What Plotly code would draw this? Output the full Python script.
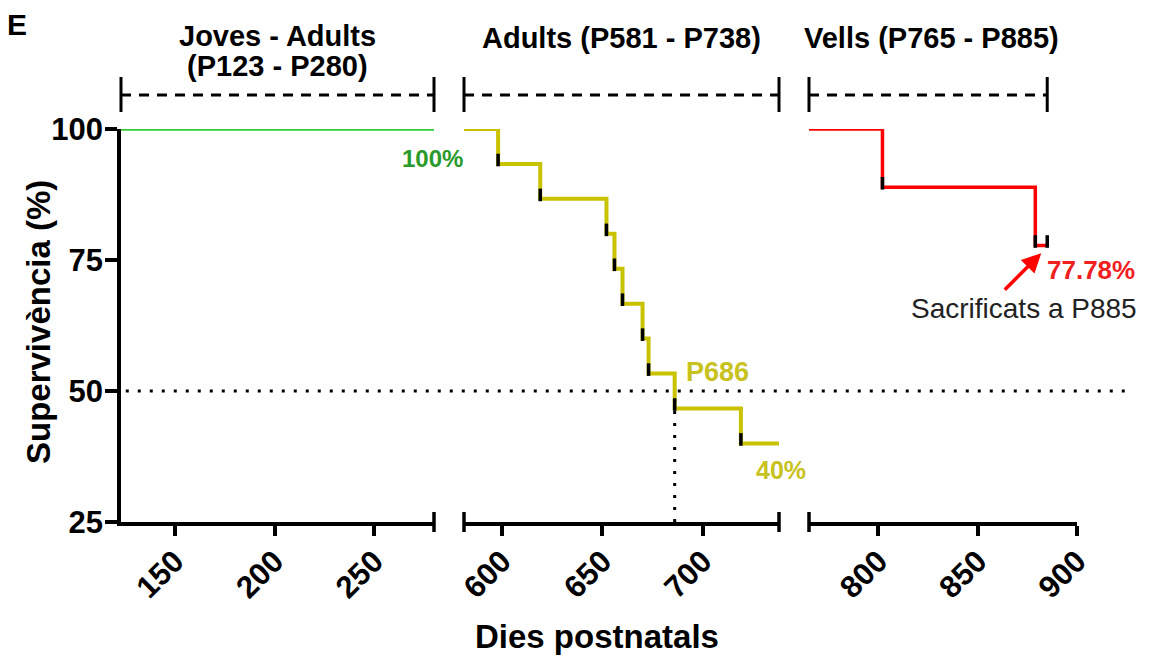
import plotly.graph_objects as go

# ---------------- data ----------------
seg1_range = [123, 280]
seg2_range = [581, 738]
seg3_range = [765, 900]

seg1_ticks = [150, 200, 250]
seg2_ticks = [600, 650, 700]
seg3_ticks = [800, 850, 900]
y_ticks = [25, 50, 75, 100]

bracket1 = [123, 280]
bracket2 = [581, 738]
bracket3 = [765, 885]

green_days = [123, 280]
green_surv = [100, 100]
green_censor_days = [280]
green_censor_surv = [100]

yellow_days = [581, 598, 619, 652, 656, 660, 670, 673, 686, 719, 738]
yellow_surv = [100, 93.33, 86.67, 80.0, 73.33, 66.67, 60.0, 53.33, 46.67, 40.0, 40.0]
yellow_event_days = yellow_days[1:-1]
yellow_event_surv = yellow_surv[1:-1]

red_days = [765, 802, 879, 885]
red_surv = [100, 88.89, 77.78, 77.78]
red_event_days = [802, 879]
red_event_surv = [88.89, 77.78]
red_censor_days = [885]
red_censor_surv = [77.78]

median_day = 686
median_surv = 50

# ---------------- style ----------------
FONT = "Liberation Sans, Arial, sans-serif"
GREEN = "#33cc33"
GREEN_TXT = "#2a9a2a"
YELLOW = "#c8c200"
YELLOW_TXT = "#c8c21e"
RED = "#ff0000"
RED_TXT = "#f02020"
W, H = 1152, 657
PL, PR, PT, PB = 121, 1077, 129, 522
PW, PH = PR - PL, PB - PT


def dom(a, b):
    return [(a - PL) / PW, (b - PL) / PW]


d1, d2, d3 = dom(121, 434), dom(464, 779), dom(809, 1077)
MARK_OFF = 0.75  # marker centre offset above the step (in % units)


def seg_to_paper(day, rg, d):
    return d[0] + (day - rg[0]) / (rg[1] - rg[0]) * (d[1] - d[0])


fig = go.Figure()

# survival curves
fig.add_trace(go.Scatter(x=green_days, y=green_surv, mode="lines", xaxis="x", yaxis="y",
                         line=dict(color=GREEN, width=3.5, shape="hv"), showlegend=False))
fig.add_trace(go.Scatter(x=yellow_days, y=yellow_surv, mode="lines", xaxis="x2", yaxis="y",
                         line=dict(color=YELLOW, width=4, shape="hv"), showlegend=False))
fig.add_trace(go.Scatter(x=red_days, y=red_surv, mode="lines", xaxis="x3", yaxis="y",
                         line=dict(color=RED, width=3.5, shape="hv"), showlegend=False))

mk = dict(symbol="line-ns", size=9, color="black", line=dict(color="black", width=3.5))
fig.add_trace(go.Scatter(x=green_censor_days, y=[v + MARK_OFF for v in green_censor_surv],
                         mode="markers", xaxis="x", yaxis="y", marker=mk, cliponaxis=False,
                         showlegend=False))
fig.add_trace(go.Scatter(x=yellow_event_days, y=[v + MARK_OFF for v in yellow_event_surv],
                         mode="markers", xaxis="x2", yaxis="y", marker=mk, cliponaxis=False,
                         showlegend=False))
fig.add_trace(go.Scatter(x=red_event_days + red_censor_days,
                         y=[v + MARK_OFF for v in red_event_surv + red_censor_surv],
                         mode="markers", xaxis="x3", yaxis="y", marker=mk, cliponaxis=False,
                         showlegend=False))

axis_common = dict(showgrid=False, zeroline=False, showline=True, linecolor="black",
                   linewidth=3.5, ticks="outside", ticklen=10, tickwidth=3.5,
                   tickcolor="black", tickangle=-45, anchor="y", ticklabelstandoff=-5,
                   tickfont=dict(family=FONT, size=31, color="black", weight="bold"))

fig.update_layout(
    width=W, height=H, template="none",
    paper_bgcolor="white", plot_bgcolor="white",
    margin=dict(l=PL, r=W - PR, t=PT, b=H - PB),
    xaxis=dict(domain=d1, range=seg1_range, tickvals=seg1_ticks, **axis_common),
    xaxis2=dict(domain=d2, range=seg2_range, tickvals=seg2_ticks, **axis_common),
    xaxis3=dict(domain=d3, range=seg3_range, tickvals=seg3_ticks, **axis_common),
    yaxis=dict(range=[25, 100], tickvals=y_ticks, showgrid=False, zeroline=False,
               showline=True, linecolor="black", linewidth=3.5, ticks="outside",
               ticklen=12, tickwidth=3.5, tickcolor="black", anchor="x",
               ticklabelstandoff=-4,
               tickfont=dict(family=FONT, size=31, color="black", weight="bold")),
    showlegend=False,
)

shapes = []
capy = 10 / PH
# axis segment end caps
for xr, xv in [("x domain", 1), ("x2 domain", 0), ("x2 domain", 1), ("x3 domain", 0)]:
    shapes.append(dict(type="line", xref=xr, yref="paper", x0=xv, x1=xv, y0=-capy, y1=capy,
                       line=dict(color="black", width=3.5)))

# top brackets
by = 1 + (PT - 95) / PH
by0 = 1 + (PT - 112) / PH
by1 = 1 + (PT - 77) / PH
for xr, br, rg in [("x domain", bracket1, seg1_range), ("x2 domain", bracket2, seg2_range),
                   ("x3 domain", bracket3, seg3_range)]:
    f0 = (br[0] - rg[0]) / (rg[1] - rg[0])
    f1 = (br[1] - rg[0]) / (rg[1] - rg[0])
    shapes.append(dict(type="line", xref=xr, yref="paper", x0=f0, x1=f1, y0=by, y1=by,
                       line=dict(color="black", width=3, dash="10px,8px")))
    for f in (f0, f1):
        shapes.append(dict(type="line", xref=xr, yref="paper", x0=f, x1=f, y0=by0, y1=by1,
                           line=dict(color="black", width=3)))

# median dotted lines
x_end_paper = seg_to_paper(925, seg3_range, d3)
shapes.append(dict(type="line", xref="paper", yref="y", x0=0.005, x1=x_end_paper,
                   y0=median_surv, y1=median_surv,
                   line=dict(color="black", width=3, dash="3px,9px")))
shapes.append(dict(type="line", xref="x2", yref="y", x0=median_day, x1=median_day,
                   y0=25, y1=median_surv, line=dict(color="black", width=3, dash="3px,9px")))
fig.update_layout(shapes=shapes)


def py(pix):
    return (PB - pix) / PH


def px(pix):
    return (pix - PL) / PW


ann = []
bold = lambda size, color="black": dict(family=FONT, size=size, color=color, weight="bold")
ann.append(dict(text="E", xref="paper", yref="paper", x=px(17), y=py(24),
                showarrow=False, font=bold(30), xanchor="center", yanchor="middle"))
ann.append(dict(text="Joves - Adults", xref="x domain", yref="paper", x=0.5, y=py(36),
                showarrow=False, font=bold(29), xanchor="center", yanchor="middle"))
ann.append(dict(text="(P123 - P280)", xref="x domain", yref="paper", x=0.5, y=py(66),
                showarrow=False, font=bold(29), xanchor="center", yanchor="middle"))
ann.append(dict(text="Adults (P581 - P738)", xref="x2 domain", yref="paper", x=0.5, y=py(38),
                showarrow=False, font=bold(29), xanchor="center", yanchor="middle"))
ann.append(dict(text="Vells (P765 - P885)", xref="paper", yref="paper", x=px(931), y=py(38),
                showarrow=False, font=bold(29), xanchor="center", yanchor="middle"))

ann.append(dict(text="100%", xref="paper", yref="y", x=seg_to_paper(279, seg1_range, d1),
                y=94.4, showarrow=False, font=bold(24, GREEN_TXT),
                xanchor="center", yanchor="middle"))
ann.append(dict(text="P686", xref="paper", yref="y", x=seg_to_paper(707.5, seg2_range, d2),
                y=53.6, showarrow=False, font=bold(27, YELLOW_TXT),
                xanchor="center", yanchor="middle"))
ann.append(dict(text="40%", xref="paper", yref="y", x=seg_to_paper(739, seg2_range, d2),
                y=34.9, showarrow=False, font=bold(25, YELLOW_TXT),
                xanchor="center", yanchor="middle"))
ann.append(dict(text="77.78%", xref="paper", yref="y", x=seg_to_paper(907, seg3_range, d3),
                y=73.1, showarrow=False, font=bold(26, RED_TXT),
                xanchor="center", yanchor="middle"))
ann.append(dict(text="Sacrificats a P885", xref="paper", yref="y",
                x=seg_to_paper(873.5, seg3_range, d3), y=65.8,
                showarrow=False, font=dict(family=FONT, size=28, color="#222222"),
                xanchor="center", yanchor="middle"))
ann.append(dict(text="", xref="x3", yref="y", x=882, y=76.3, ax=-38, ay=38,
                showarrow=True, arrowhead=2, arrowsize=1.1, arrowwidth=3.5, arrowcolor=RED))

ann.append(dict(text="Dies postnatals", xref="paper", yref="paper", x=px(597), y=py(636),
                showarrow=False, font=bold(33), xanchor="center", yanchor="middle"))
ann.append(dict(text="Supervivència (%)", xref="paper", yref="paper", x=px(38), y=py(322),
                showarrow=False, font=bold(33), xanchor="center", yanchor="middle",
                textangle=-90))
fig.update_layout(annotations=ann)

fig.write_html("out.html")
